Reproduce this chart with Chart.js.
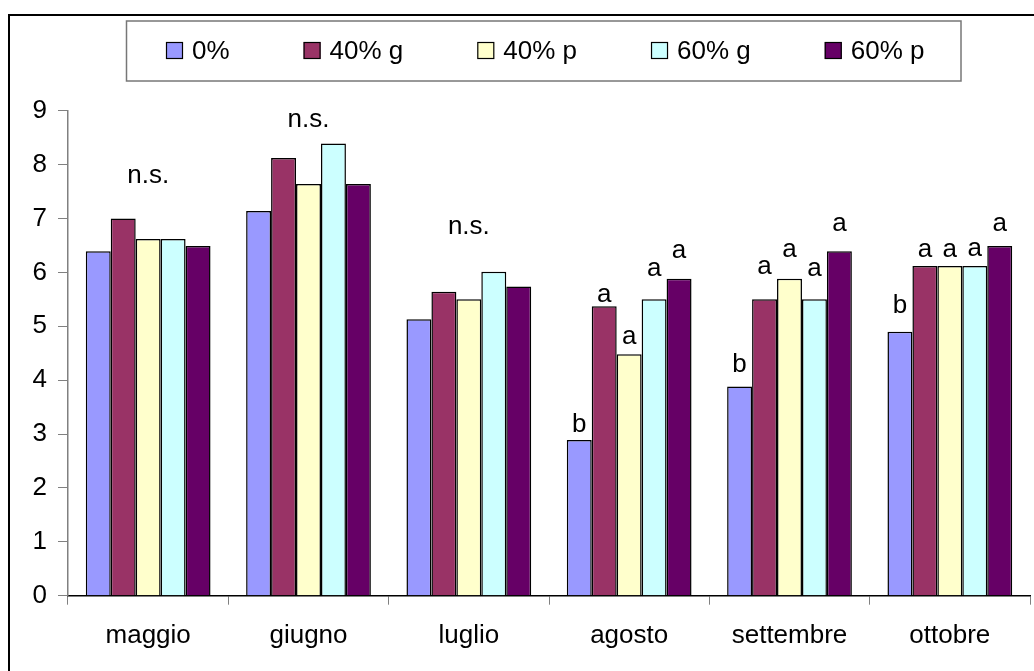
<!DOCTYPE html>
<html>
<head>
<meta charset="utf-8">
<script src="https://cdn.jsdelivr.net/npm/chart.js@4.4.0/dist/chart.umd.min.js"></script>
<style>
html,body{margin:0;padding:0;background:#fff;overflow:hidden;width:1034px;height:671px;}
#frame{position:absolute;left:8px;top:14px;width:1100px;height:800px;border:2px solid #000;box-sizing:border-box;}
#wrap{position:absolute;left:0;top:0;width:1034px;height:671px;}
</style>
</head>
<body>
<div id="frame"></div>
<div id="wrap"><canvas id="c" width="1034" height="671"></canvas></div>
<script>
// ---- data ----
const categories = ['maggio', 'giugno', 'luglio', 'agosto', 'settembre', 'ottobre'];
const seriesNames = ['0%', '40% g', '40% p', '60% g', '60% p'];
const values0   = [6.39, 7.14, 5.13, 2.89, 3.88, 4.90];
const values40g = [7.00, 8.12, 5.64, 5.37, 5.50, 6.12];
const values40p = [6.62, 7.64, 5.50, 4.48, 5.88, 6.12];
const values60g = [6.62, 8.39, 6.01, 5.50, 5.50, 6.12];
const values60p = [6.49, 7.64, 5.74, 5.88, 6.39, 6.49];
const yTicks = [0, 1, 2, 3, 4, 5, 6, 7, 8, 9];
// significance letters per series, and the value level where each sits
const letters0   = ['', '', '', 'b', 'b', 'b'];
const letters40g = ['', '', '', 'a', 'a', 'a'];
const letters40p = ['', '', '', 'a', 'a', 'a'];
const letters60g = ['', '', '', 'a', 'a', 'a'];
const letters60p = ['', '', '', 'a', 'a', 'a'];
const letterLevel0   = [null, null, null, 3.04, 4.16, 5.25];
const letterLevel40g = [null, null, null, 5.45, 5.97, 6.28];
const letterLevel40p = [null, null, null, 4.67, 6.28, 6.28];
const letterLevel60g = [null, null, null, 5.93, 5.94, 6.31];
const letterLevel60p = [null, null, null, 6.26, 6.76, 6.76];
const nsText  = ['n.s.', 'n.s.', 'n.s.', '', '', ''];
const nsLevel = [7.66, 8.70, 6.71, null, null, null];

// ---- styles ----
const colors = ['#9999FF', '#993366', '#FFFFCC', '#CCFFFF', '#660066'];
const FONT = "'Liberation Sans', Arial, sans-serif";
const FS = 26;

const seriesValues = [values0, values40g, values40p, values60g, values60p];
const seriesLetters = [letters0, letters40g, letters40p, letters60g, letters60p];
const seriesLevels = [letterLevel0, letterLevel40g, letterLevel40p, letterLevel60g, letterLevel60p];

const annotations = {
  id: 'annotations',
  afterDatasetsDraw(chart) {
    const c = chart.ctx, ys = chart.scales.y, xs = chart.scales.x;
    c.save();
    c.font = FS + 'px ' + FONT;
    c.fillStyle = '#000';
    c.textAlign = 'center';
    c.textBaseline = 'alphabetic';
    seriesLetters.forEach((arr, i) => {
      const meta = chart.getDatasetMeta(i);
      arr.forEach((t, j) => {
        if (!t) return;
        c.fillText(t, meta.data[j].x, ys.getPixelForValue(seriesLevels[i][j]));
      });
    });
    nsText.forEach((t, j) => {
      if (!t) return;
      c.fillText(t, xs.getPixelForValue(j), ys.getPixelForValue(nsLevel[j]));
    });
    c.restore();
  }
};

const legendBox = {
  id: 'legendBox',
  afterDraw(chart) {
    const c = chart.ctx;
    c.save();
    c.strokeStyle = '#777';
    c.lineWidth = 1.5;
    c.strokeRect(126.5, 21, 834.5, 60);
    c.font = FS + 'px ' + FONT;
    c.textBaseline = 'middle';
    c.textAlign = 'left';
    let x = 166;
    const y = 50.5;
    chart.data.datasets.forEach(ds => {
      c.fillStyle = ds.backgroundColor;
      c.fillRect(x, y - 8.5, 17, 17);
      c.strokeStyle = '#000';
      c.lineWidth = 1.2;
      c.strokeRect(x + 0.5, y - 8, 16, 16);
      c.fillStyle = '#000';
      c.fillText(ds.label, x + 26, y + 1);
      x += 26 + c.measureText(ds.label).width + 74;
    });
    c.restore();
  }
};

new Chart(document.getElementById('c'), {
  type: 'bar',
  data: {
    labels: categories,
    datasets: seriesNames.map((n, i) => ({
      label: n,
      data: seriesValues[i],
      backgroundColor: colors[i],
      borderColor: '#000',
      borderWidth: 1.5,
      categoryPercentage: 0.778,
      barPercentage: 1
    }))
  },
  options: {
    responsive: false,
    animation: false,
    layout: { padding: { top: 110.7, right: 4, left: 0, bottom: 0 } },
    plugins: { legend: { display: false }, tooltip: { enabled: false } },
    scales: {
      x: {
        grid: { display: true, drawOnChartArea: false, drawTicks: true, tickLength: 9, color: '#808080', offset: true },
        border: { color: '#000', width: 1.5 },
        ticks: { font: { family: FONT, size: FS }, color: '#000', padding: 16 },
        afterFit(s) { s.height = 75.3; }
      },
      y: {
        min: 0, max: 9,
        afterBuildTicks(s) { s.ticks = yTicks.map(v => ({ value: v })); },
        grid: { display: true, drawOnChartArea: false, drawTicks: true, tickLength: 10, color: '#808080' },
        border: { color: '#808080', width: 1.5 },
        ticks: { font: { family: FONT, size: FS }, color: '#000', padding: 11 },
        afterFit(s) { s.width = 68; }
      }
    }
  },
  plugins: [annotations, legendBox]
});
</script>
</body>
</html>
